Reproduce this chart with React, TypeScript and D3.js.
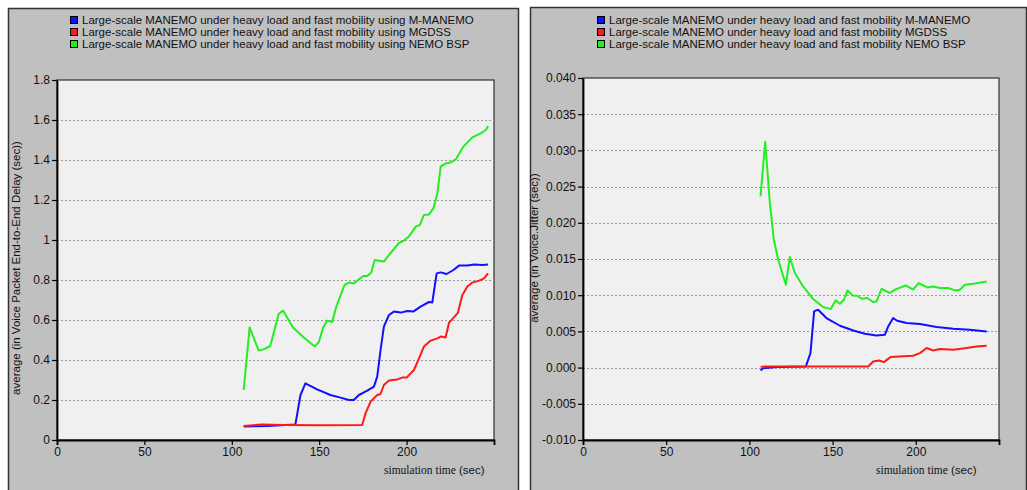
import * as d3 from 'd3';
import { useEffect, useRef } from 'react';

// simulation time ticks shared by both panels
const X_TICKS = [0, 50, 100, 150, 200];
const X_TICK_LABELS = ['0', '50', '100', '150', '200'];

const DELAY_TICKS = [0, 0.2, 0.4, 0.6, 0.8, 1, 1.2, 1.4, 1.6, 1.8];
const DELAY_TICK_LABELS = ['0', '0.2', '0.4', '0.6', '0.8', '1', '1.2', '1.4', '1.6', '1.8'];

const JITTER_TICKS = [-0.01, -0.005, 0, 0.005, 0.01, 0.015, 0.02, 0.025, 0.03, 0.035, 0.04];
const JITTER_TICK_LABELS = ['-0.010', '-0.005', '0.000', '0.005', '0.010', '0.015', '0.020', '0.025', '0.030', '0.035', '0.040'];

const DELAY_LEGEND = [
    'Large-scale MANEMO under heavy load and fast mobility using M-MANEMO',
    'Large-scale MANEMO under heavy load and fast mobility using MGDSS',
    'Large-scale MANEMO under heavy load and fast mobility using NEMO BSP',
];
const JITTER_LEGEND = [
    'Large-scale MANEMO under heavy load and fast mobility M-MANEMO',
    'Large-scale MANEMO under heavy load and fast mobility MGDSS',
    'Large-scale MANEMO under heavy load and fast mobility NEMO BSP',
];

// [time, value]
const delayMManemo: [number, number][] = [
    [106.8, 0.067], [120, 0.07], [136.4, 0.078], [139.3, 0.225], [142.1, 0.283], [148.8, 0.253],
    [156.4, 0.225], [162.2, 0.212], [167, 0.2], [169.8, 0.2], [172.7, 0.225], [177.5, 0.247],
    [181.3, 0.267], [183.2, 0.317], [185.1, 0.45], [187, 0.567], [189.9, 0.625], [192.7, 0.642],
    [196.6, 0.637], [200.4, 0.645], [203.8, 0.642], [208, 0.667], [212.8, 0.69], [214.7, 0.688],
    [217.2, 0.833], [219.5, 0.838], [222.9, 0.83], [226.8, 0.85], [230, 0.872], [234.8, 0.872],
    [238.6, 0.878], [243.4, 0.875], [246.6, 0.878],
];
const delayMgdss: [number, number][] = [
    [106.8, 0.07], [117.3, 0.078], [130, 0.075], [150, 0.074], [174.6, 0.075], [176.5, 0.133],
    [179.4, 0.192], [183.2, 0.225], [185.1, 0.23], [187, 0.275], [189.9, 0.297], [194.7, 0.303],
    [197.5, 0.312], [200, 0.312], [204.2, 0.35], [207.1, 0.408], [209.9, 0.467], [213.8, 0.497],
    [217.6, 0.508], [219.5, 0.517], [222.3, 0.513], [224.3, 0.587], [227.1, 0.613], [229.4, 0.637],
    [231.9, 0.725], [234.8, 0.767], [237.6, 0.787], [241.5, 0.797], [244.3, 0.808], [246.6, 0.833],
];
const delayNemo: [number, number][] = [
    [106.8, 0.25], [110.2, 0.563], [115.4, 0.447], [118.2, 0.453], [122, 0.47], [126.8, 0.63],
    [129.3, 0.647], [135, 0.563], [141.2, 0.513], [147.5, 0.467], [149.8, 0.49], [152.3, 0.563],
    [154.5, 0.597], [157.4, 0.59], [159.9, 0.67], [164.5, 0.775], [167, 0.787], [169.8, 0.783],
    [175.2, 0.82], [177.5, 0.82], [179.8, 0.837], [181.7, 0.9], [187, 0.892], [189.9, 0.925],
    [195.6, 0.985], [198.5, 0.997], [201.3, 1.017], [205.2, 1.067], [207.6, 1.075], [209.9, 1.125],
    [212.8, 1.128], [215.3, 1.158], [217.6, 1.233], [219.5, 1.367], [222.3, 1.383], [225.2, 1.387],
    [228.1, 1.403], [232.5, 1.467], [237.6, 1.513], [242.4, 1.533], [245.3, 1.55], [246.6, 1.57],
];

const jitterMManemo: [number, number][] = [
    [106.7, -0.0004], [108.2, -0.0001], [118.3, 0.0001], [133.9, 0.00015], [136.7, 0.002],
    [138.9, 0.00776], [141.3, 0.008], [146.3, 0.00684], [154.4, 0.00578], [162.4, 0.00513],
    [169.4, 0.00467], [176.4, 0.00444], [181.4, 0.00453], [183.4, 0.00568], [186.4, 0.00684],
    [188.8, 0.00647], [194.5, 0.00615], [202.5, 0.00601], [212.5, 0.0056], [222.5, 0.00536],
    [232.5, 0.00522], [242.6, 0.00499],
];
const jitterMgdss: [number, number][] = [
    [106.7, 0.0001], [109.5, 0.00015], [140, 0.00015], [171.4, 0.00015], [174.4, 0.00084],
    [178, 0.00098], [180.8, 0.00076], [184.8, 0.00145], [190.4, 0.00154], [198.4, 0.00163],
    [202.5, 0.002], [206.5, 0.0027], [210.5, 0.00237], [214.5, 0.00256], [222.5, 0.00246],
    [230.5, 0.0027], [236.5, 0.00292], [242.6, 0.00301],
];
const jitterNemo: [number, number][] = [
    [106.7, 0.02366], [109.5, 0.0312], [112.3, 0.0227], [114.7, 0.01767], [117.3, 0.0149],
    [121.9, 0.01145], [124.3, 0.01528], [127.3, 0.01306], [132.3, 0.01121], [138.3, 0.00947],
    [144.3, 0.00836], [148.9, 0.00808], [151.8, 0.00928], [154.4, 0.00882], [156.8, 0.00937],
    [159, 0.01066], [162, 0.00997], [164.8, 0.00993], [167.4, 0.00951], [170.8, 0.00961],
    [174.4, 0.00906], [176.4, 0.00914], [179.4, 0.01089], [184.4, 0.0103], [187.4, 0.01076],
    [194, 0.01135], [198.4, 0.01076], [201.7, 0.01168], [206.9, 0.01107], [210.5, 0.01121],
    [214.5, 0.01099], [219.5, 0.01099], [223.5, 0.01066], [226.5, 0.01076], [229.5, 0.01145],
    [234.5, 0.01159], [242.6, 0.0119],
];

const COLORS = ['#1010ff', '#ff1a1a', '#22ee22'];
const FONT = 'Liberation Sans, Arial, sans-serif';

interface PanelCfg {
    box: { x: number; y: number; w: number; h: number };
    plot: { left: number; right: number; top: number; bottom: number };
    yDomain: [number, number];
    yTicks: number[];
    yLabels: string[];
    yTitle: string;
    yTitleX: number;
    yTitleY: number;
    legend: string[];
    legendX: number;
    xTitleX: number;
    series: [number, number][][];
}

const drawPanel = (svg: d3.Selection<SVGSVGElement, unknown, null, undefined>, cfg: PanelCfg) => {
    const { box, plot } = cfg;
    const g = svg.append('g');

    // gray panel
    g.append('rect')
        .attr('x', box.x + 0.5).attr('y', box.y + 0.5)
        .attr('width', box.w).attr('height', box.h)
        .attr('fill', '#c0c0c0')
        .attr('stroke', '#333')
        .attr('stroke-width', 1.5);

    const x = d3.scaleLinear().domain([0, 250]).range([plot.left, plot.right]);
    const y = d3.scaleLinear().domain(cfg.yDomain).range([plot.bottom, plot.top]);

    // plot area
    g.append('rect')
        .attr('x', plot.left).attr('y', plot.top)
        .attr('width', plot.right - plot.left).attr('height', plot.bottom - plot.top)
        .attr('fill', '#f0f0f0')
        .attr('stroke', '#303030')
        .attr('stroke-width', 1.2);

    // dotted grid
    g.append('g')
        .selectAll('line')
        .data(cfg.yTicks.slice(1, -1))
        .join('line')
        .attr('x1', plot.left).attr('x2', plot.right)
        .attr('y1', d => Math.round(y(d)) + 0.5).attr('y2', d => Math.round(y(d)) + 0.5)
        .attr('stroke', '#999')
        .attr('stroke-width', 1)
        .attr('stroke-dasharray', '2,2');

    // axes
    const yAxis = d3.axisLeft(y)
        .tickValues(cfg.yTicks)
        .tickFormat((_, i) => cfg.yLabels[i])
        .tickSize(5)
        .tickSizeOuter(0)
        .tickPadding(2);
    const ya = g.append('g').attr('transform', `translate(${plot.left},0)`).call(yAxis);

    const xAxis = d3.axisBottom(x)
        .tickValues(X_TICKS)
        .tickFormat((_, i) => X_TICK_LABELS[i])
        .tickSize(5)
        .tickSizeOuter(5)
        .tickPadding(2);
    const xa = g.append('g').attr('transform', `translate(0,${plot.bottom})`).call(xAxis);

    [ya, xa].forEach(a => {
        a.select('.domain').attr('stroke', '#000').attr('stroke-width', 1.8);
        a.selectAll('.tick line').attr('stroke', '#000').attr('stroke-width', 1.2);
        a.selectAll('.tick text')
            .attr('fill', '#111')
            .style('font-family', FONT)
            .style('font-size', '12px');
    });

    // series
    const line = d3.line<[number, number]>()
        .x(d => x(d[0]))
        .y(d => y(d[1]));

    cfg.series.forEach((s, i) => {
        g.append('path')
            .datum(s)
            .attr('fill', 'none')
            .attr('stroke', COLORS[i])
            .attr('stroke-width', 2)
            .attr('stroke-linejoin', 'round')
            .attr('d', line);
    });

    // legend
    const lg = g.append('g');
    cfg.legend.forEach((label, i) => {
        const cy = 20 + i * 12;
        lg.append('rect')
            .attr('x', cfg.legendX + 0.5).attr('y', cy - 3.5)
            .attr('width', 7).attr('height', 7)
            .attr('fill', COLORS[i])
            .attr('stroke', '#000')
            .attr('stroke-width', 1);
        lg.append('text')
            .attr('x', cfg.legendX + 12).attr('y', cy + 4)
            .attr('fill', '#111')
            .style('font-family', FONT)
            .style('font-size', '11.5px')
            .text(label);
    });

    // axis titles
    g.append('text')
        .attr('transform', `translate(${cfg.yTitleX},${cfg.yTitleY}) rotate(-90)`)
        .attr('text-anchor', 'middle')
        .attr('fill', '#111')
        .style('font-family', FONT)
        .style('font-size', '11.5px')
        .text(cfg.yTitle);

    g.append('text')
        .attr('x', cfg.xTitleX)
        .attr('y', plot.bottom + 34)
        .attr('fill', '#111')
        .style('font-family', 'Liberation Serif, Times New Roman, serif')
        .style('font-size', '11.5px')
        .text('simulation time');
    g.append('text')
        .attr('x', cfg.xTitleX + 75)
        .attr('y', plot.bottom + 34)
        .attr('fill', '#111')
        .style('font-family', FONT)
        .style('font-size', '11.5px')
        .text('(sec)');
};

const Charts = () => {
    const svgRef = useRef<SVGSVGElement | null>(null);

    useEffect(() => {
        if (!svgRef.current) return;
        const svg = d3.select(svgRef.current);
        svg.selectAll('*').remove();

        svg.append('rect').attr('width', 1027).attr('height', 490).attr('fill', '#fff');

        drawPanel(svg, {
            box: { x: 8, y: 8, w: 510, h: 490 },
            plot: { left: 57, right: 494, top: 80, bottom: 440 },
            yDomain: [0, 1.8],
            yTicks: DELAY_TICKS,
            yLabels: DELAY_TICK_LABELS,
            yTitle: 'average (in Voice Packet End-to-End Delay (sec))',
            yTitleX: 20,
            yTitleY: 268,
            legend: DELAY_LEGEND,
            legendX: 70,
            xTitleX: 384,
            series: [delayMManemo, delayMgdss, delayNemo],
        });

        drawPanel(svg, {
            box: { x: 530, y: 7, w: 496, h: 490 },
            plot: { left: 583, right: 999, top: 78, bottom: 440 },
            yDomain: [-0.01, 0.04],
            yTicks: JITTER_TICKS,
            yLabels: JITTER_TICK_LABELS,
            yTitle: 'average (in Voice.Jitter (sec))',
            yTitleX: 538,
            yTitleY: 248,
            legend: JITTER_LEGEND,
            legendX: 597,
            xTitleX: 876,
            series: [jitterMManemo, jitterMgdss, jitterNemo],
        });
    }, []);

    return <svg ref={svgRef} width={1027} height={490} style={{ position: 'absolute', left: 0, top: 0 }} />;
};

export default function App() {
    return <Charts />;
}
